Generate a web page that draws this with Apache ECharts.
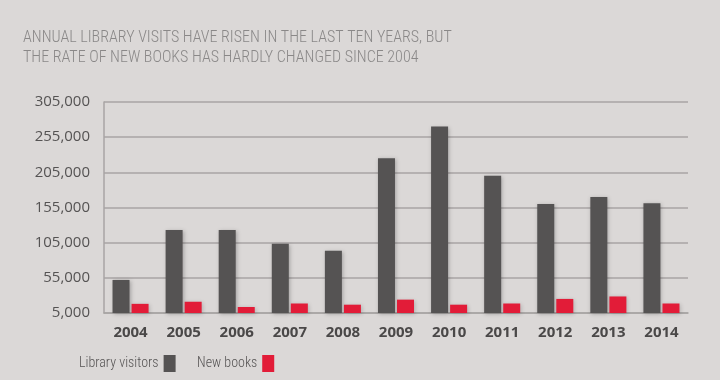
<!DOCTYPE html>
<html>
<head>
<meta charset="utf-8">
<script src="https://cdn.jsdelivr.net/npm/echarts@6/dist/echarts.min.js"></script>
<style>
html,body{margin:0;padding:0;background:#dbd8d7;}
#chart{width:720px;height:380px;}
</style>
</head>
<body>
<div id="chart"></div>
<script>
const years = ['2004','2005','2006','2007','2008','2009','2010','2011','2012','2013','2014'];
const libraryVisitors = [52000, 123000, 123000, 103500, 93500, 225000, 270000, 200000, 160000, 170000, 161000];
const newBooks = [18000, 21000, 13500, 18500, 16800, 24000, 16800, 18500, 25000, 28500, 18500];
const yTicks = { min: 5000, max: 305000, interval: 50000 };

const legendText = { fontFamily: 'Roboto Condensed', fontWeight: 300, fontSize: 14, color: '#555353', padding: [2, 0, 0, 0] };
const chart = echarts.init(document.getElementById('chart'), null, { renderer: 'canvas' });
chart.setOption({
  backgroundColor: '#dbd8d7',
  animation: false,
  title: {
    text: 'ANNUAL LIBRARY VISITS HAVE RISEN IN THE LAST TEN YEARS, BUT\nTHE RATE OF NEW BOOKS HAS HARDLY CHANGED SINCE 2004',
    left: 18, top: 23,
    textStyle: { fontFamily: 'Roboto Condensed', fontWeight: 300, fontSize: 16, color: '#8a8888', lineHeight: 20 }
  },
  legend: [
    { left: 74, top: 350, align: 'right', icon: 'rect', itemWidth: 12, itemHeight: 17,
      textStyle: legendText, data: ['Library visitors'] },
    { left: 192, top: 350, align: 'right', icon: 'rect', itemWidth: 12, itemHeight: 17,
      textStyle: legendText, data: ['New books'] }
  ],
  grid: { left: 104, right: 32, top: 102, bottom: 67, containLabel: false },
  xAxis: {
    type: 'category', data: years,
    axisLine: { lineStyle: { color: '#a8a5a4', width: 1.5 } },
    axisTick: { show: false },
    axisLabel: { margin: 12, fontFamily: 'Open Sans', fontWeight: 'bold', fontSize: 15, color: '#4a4848' }
  },
  yAxis: {
    type: 'value', min: yTicks.min, max: yTicks.max, interval: yTicks.interval,
    axisLine: { show: true, lineStyle: { color: '#a8a5a4', width: 1.5 } },
    axisTick: { show: false },
    splitLine: { lineStyle: { color: '#a8a5a4', width: 1.5 } },
    axisLabel: { margin: 14, fontFamily: 'Open Sans', fontSize: 15, color: '#555353',
      formatter: v => v.toLocaleString('en-US') }
  },
  series: [
    { name: 'Library visitors', type: 'bar', data: libraryVisitors, barWidth: 17, barGap: '12%',
      itemStyle: { color: '#555353', shadowColor: 'rgba(0,0,0,0.25)', shadowBlur: 4, shadowOffsetX: 1, shadowOffsetY: 1 } },
    { name: 'New books', type: 'bar', data: newBooks, barWidth: 17, barGap: '12%',
      itemStyle: { color: '#e21c38', shadowColor: 'rgba(0,0,0,0.2)', shadowBlur: 4, shadowOffsetX: 1, shadowOffsetY: 1 } }
  ]
});
</script>
</body>
</html>
